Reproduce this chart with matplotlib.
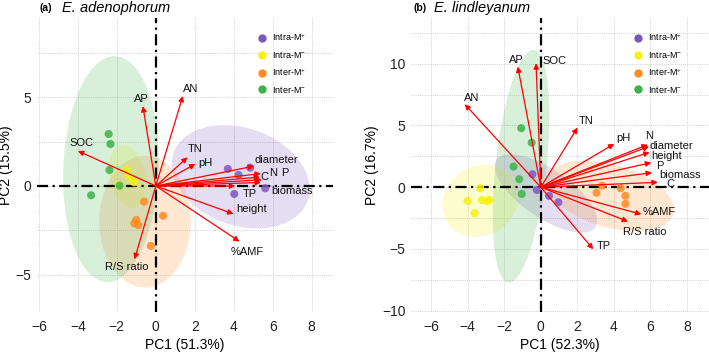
import matplotlib
matplotlib.use("Agg")
import matplotlib.pyplot as plt
from matplotlib.patches import Ellipse
from matplotlib.lines import Line2D
import numpy as np

plt.rcParams['font.family'] = ['Liberation Sans', 'DejaVu Sans']
plt.rcParams['mathtext.default'] = 'regular'

groups = ['Intra-M$^{+}$', 'Intra-M$^{-}$', 'Inter-M$^{+}$', 'Inter-M$^{-}$']
colors = ['#7E57C2', '#F5F20F', '#FF8A1F', '#3DB34A']

# ---------------- Panel (a) E. adenophorum ----------------
a_pts = {
    0: ([3.70, 4.85, 4.25, 5.62, 4.03], [0.96, 1.03, 0.62, -0.13, -0.45]),
    1: ([-1.50, -1.40, -1.90, -1.10, -1.25], [0.90, 0.60, 0.05, 0.20, 0.45]),
    2: ([-0.60, 0.37, -1.00, -1.10, -0.90, -0.25], [-0.88, -1.67, -1.90, -2.10, -2.20, -3.37]),
    3: ([-2.42, -2.33, -2.38, -3.32, -1.86], [2.92, 2.36, 0.90, -0.52, 0.02]),
}
a_vars = ['AP', 'AN', 'SOC', 'TN', 'pH', 'diameter', 'C', 'N', 'P', 'biomass',
          'TP', 'height', '%AMF', 'R/S ratio']
a_vx = [-0.66, 1.39, -4.00, 1.63, 2.03, 5.05, 5.40, 5.35, 5.45, 5.40, 4.08, 3.99, 4.30, -1.09]
a_vy = [4.49, 5.06, 1.97, 1.61, 1.24, 1.12, 0.70, 0.50, 0.35, 0.20, 0.00, -1.57, -3.12, -4.12]
a_lx = [-0.76, 1.80, -3.79, 2.03, 2.54, 6.20, 5.56, 6.00, 6.60, 7.00, 4.85, 4.93, 4.68, -1.48]
a_ly = [4.87, 5.43, 2.43, 2.06, 1.27, 1.46, 0.52, 0.75, 0.73, -0.28, -0.45, -1.31, -3.69, -4.53]
a_ha = ['center'] * 14
# ellipses: center x, center y, width, height, angle
a_ell = [(4.36, 0.52, 7.4, 5.4, -25), (-1.45, 0.55, 3.6, 1.8, 100),
         (-0.55, -2.0, 7.4, 4.7, 90), (-2.3, 0.95, 12.7, 4.9, 88)]

# ---------------- Panel (b) E. lindleyanum ----------------
b_pts = {
    0: ([-0.46, -0.22, 0.45, 0.96], [1.05, -0.22, -0.70, -1.22]),
    1: ([-3.31, -4.00, -3.22, -2.95, -2.82, -3.62], [-0.08, -1.11, -1.03, -1.11, -1.03, -2.10]),
    2: ([3.36, 3.05, 4.37, 4.63, 4.63], [0.13, -0.44, -0.08, -0.70, -1.35]),
    3: ([-1.07, -0.50, -1.49, -1.18, -1.04], [4.78, 3.61, 1.67, 0.65, -0.54]),
}
b_vars = ['AN', 'AP', 'SOC', 'TN', 'pH', 'N', 'diameter', 'height', 'P', 'biomass',
          'C', '%AMF', 'R/S ratio', 'TP']
b_vx = [-4.16, -1.26, -0.26, 2.01, 4.02, 5.85, 5.92, 5.95, 6.04, 6.08, 6.40, 5.50, 4.77, 2.87]
b_vy = [6.72, 9.77, 10.04, 4.83, 3.51, 3.45, 3.30, 2.83, 1.99, 1.18, 0.40, -2.19, -2.78, -5.02]
b_lx = [-4.22, -1.76, 0.10, 2.10, 4.13, 5.72, 5.95, 6.04, 6.31, 6.46, 6.86, 5.59, 4.50, 3.05]
b_ly = [7.26, 10.30, 10.25, 5.39, 3.97, 4.15, 3.37, 2.56, 1.75, 1.00, 0.27, -2.03, -3.64, -4.75]
b_ha = ['left'] * 14
b_ell = [(0.28, -0.5, 7.8, 3.3, -50), (-3.3, -1.1, 5.9, 4.1, 80),
         (3.79, -0.7, 7.66, 4.8, -31), (-1.08, 1.7, 18.9, 2.8, 85.9)]


def panel(ax, pts, vars_, vx, vy, lx, ly, has, ell, xlim, ylim, yticks, ygrid,
          xlabel, ylabel):
    ax.set_xlim(*xlim)
    ax.set_ylim(*ylim)
    for s in ax.spines.values():
        s.set_visible(False)
    ax.set_xticks(np.arange(-6, 9, 2))
    ax.set_yticks(yticks)
    ax.set_yticks(ygrid, minor=True)
    ax.tick_params(which='both', length=0, labelsize=10, colors='#222222')
    ax.tick_params(axis='x', pad=6)
    ax.tick_params(axis='y', pad=4)
    ax.grid(True, which='both', color='#cfcfcf', linestyle=(0, (1, 1.2)), linewidth=0.7)
    ax.set_axisbelow(True)
    for i, (cx, cy, w, h, ang) in enumerate(ell):
        ax.add_patch(Ellipse((cx, cy), w, h, angle=ang, facecolor=colors[i],
                             alpha=0.2, edgecolor='none', zorder=1))
    ax.axhline(0, color='black', lw=1.6, linestyle=(0, (5, 2, 1, 2)), zorder=2)
    ax.axvline(0, color='black', lw=1.6, linestyle=(0, (5, 2, 1, 2)), zorder=2)
    for i in range(4):
        x, y = pts[i]
        ax.scatter(x, y, s=34, color=colors[i], alpha=0.85, edgecolors='none',
                   zorder=3)
    for name, x, y, tx, ty, ha in zip(vars_, vx, vy, lx, ly, has):
        ax.annotate('', xy=(x, y), xytext=(0, 0),
                    arrowprops=dict(arrowstyle='-|>', color='red', lw=0.9,
                                    mutation_scale=8, shrinkA=0, shrinkB=0),
                    zorder=4)
        ax.text(tx, ty, name, fontsize=8, ha=ha, va='center', zorder=5,
                color='#111111')
    ax.set_xlabel(xlabel, fontsize=10, labelpad=3)
    ax.set_ylabel(ylabel, fontsize=10, labelpad=2)
    handles = [Line2D([], [], marker='o', linestyle='none', markersize=6,
                      markerfacecolor=colors[i], markeredgecolor='none')
               for i in range(4)]
    ax.legend(handles, groups, loc='upper left', bbox_to_anchor=(0.725, 0.975),
              frameon=False, fontsize=6.5, labelspacing=0.72, handletextpad=0.6,
              handlelength=1.0, borderpad=0.2)
    return ax


fig = plt.figure(figsize=(7.09, 3.54), dpi=100)
ax1 = fig.add_axes([37 / 709, 1 - 312 / 354, 296 / 709, 294 / 354])
ax2 = fig.add_axes([411 / 709, 1 - 312 / 354, 298 / 709, 294 / 354])

panel(ax1, a_pts, a_vars, a_vx, a_vy, a_lx, a_ly, a_ha, a_ell, (-6.1, 9.1), (-7.08, 9.44),
      [-5, 0, 5], np.arange(-5, 9.5, 2.5), 'PC1 (51.3%)', 'PC2 (15.5%)')
panel(ax2, b_pts, b_vars, b_vx, b_vy, b_lx, b_ly, b_ha, b_ell, (-7.1, 9.2), (-10.1, 13.7),
      [-10, -5, 0, 5, 10], np.arange(-10, 13.6, 2.5), 'PC1 (52.3%)', 'PC2 (16.7%)')

fig.text(40 / 709, 1 - 8 / 354, '(a)', fontsize=7.5, fontweight='bold', va='center')
fig.text(62 / 709, 1 - 8 / 354, 'E. adenophorum', fontsize=10.5, style='italic', va='center')
fig.text(413 / 709, 1 - 8 / 354, '(b)', fontsize=7.5, fontweight='bold', va='center')
fig.text(434 / 709, 1 - 8 / 354, 'E. lindleyanum', fontsize=10.5, style='italic', va='center')

fig.savefig('out.png', dpi=100)
